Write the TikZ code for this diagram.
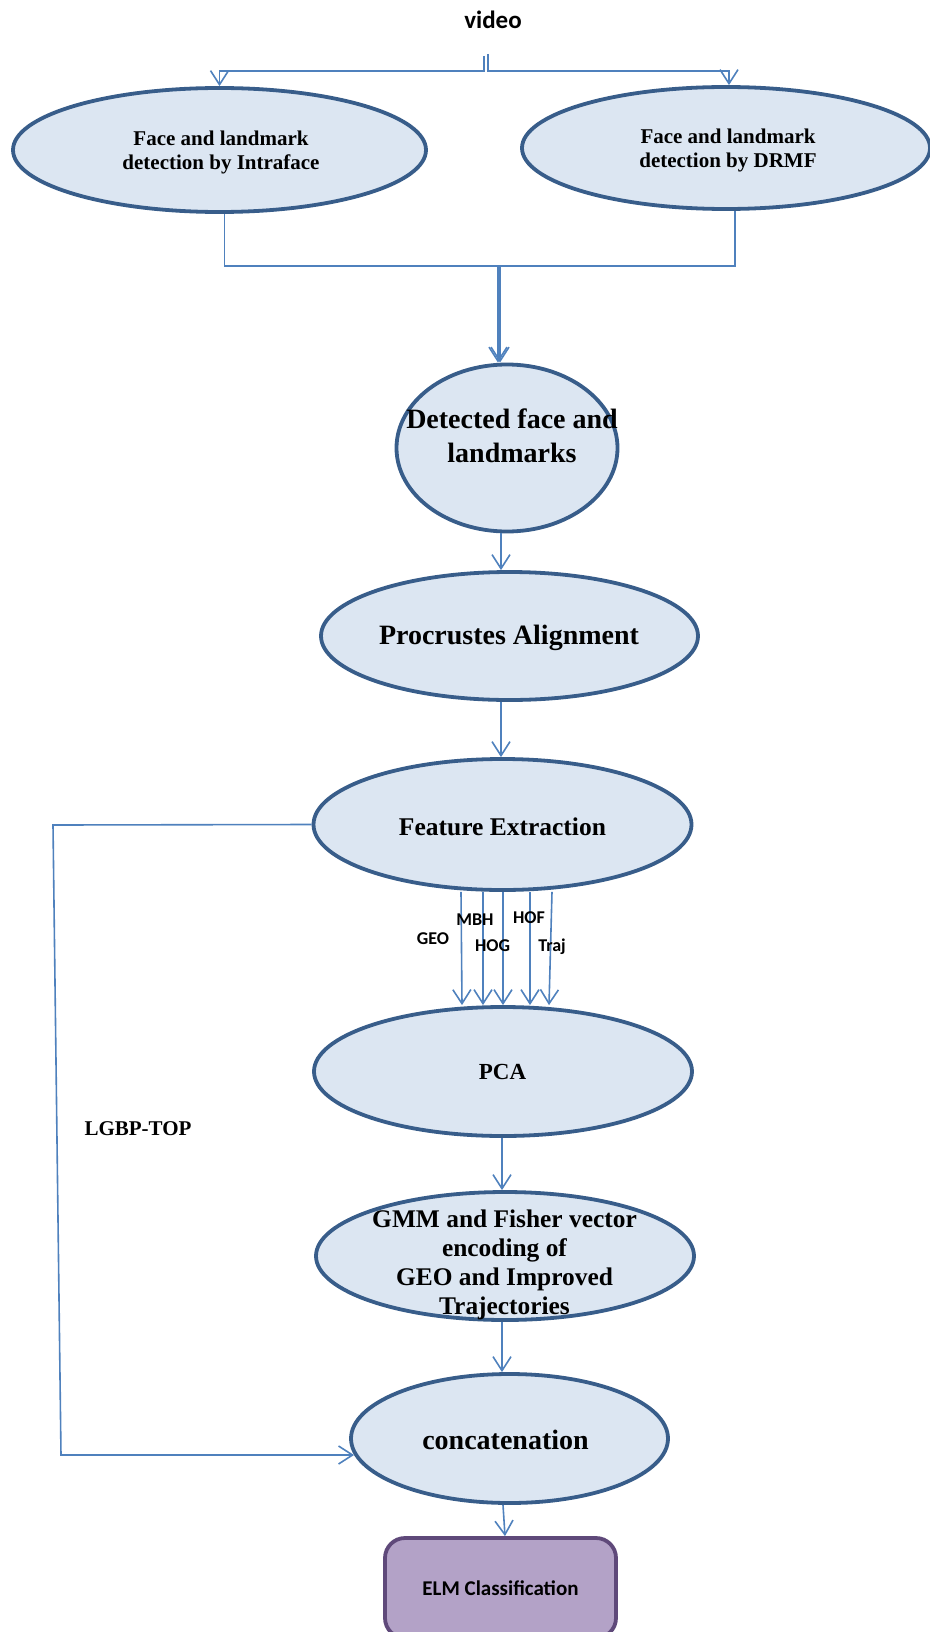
\documentclass[tikz,border=0pt]{standalone}
\usepackage{fontspec}
\setmainfont{Liberation Serif}
\newfontfamily\calib{Carlito}
\usetikzlibrary{shapes.geometric,arrows.meta,calc}
\definecolor{ellfill}{HTML}{DCE6F2}
\definecolor{elldraw}{HTML}{385D8A}
\definecolor{conncol}{HTML}{4F81BD}
\definecolor{elmfill}{HTML}{B3A2C7}
\definecolor{elmdraw}{HTML}{5F497A}
\begin{document}
\begin{tikzpicture}[x=1pt,y=-1pt,
  ell/.style={ellipse, draw=elldraw, fill=ellfill, line width=3.8pt, inner sep=0pt},
  conn/.style={draw=conncol, line width=1.6pt},
  arr/.style={conn, -{Straight Barb[length=14pt,width=18pt]}},
  lbl/.style={inner sep=0pt, align=center},
  sersize/.style 2 args={font=\bfseries\fontsize{#1}{#2}\selectfont},
  sanssize/.style 2 args={font=\calib\bfseries\fontsize{#1}{#2}\selectfont}
]
\useasboundingbox (0,0) rectangle (929,1632);

% ellipses
\node[ell, minimum width=413pt, minimum height=124pt] (intra) at (219.5,150) {};
\node[ell, minimum width=408pt, minimum height=122pt] (drmf) at (726,148) {};
\node[ell, minimum width=221pt, minimum height=167pt] (det) at (507,448) {};
\node[ell, minimum width=377pt, minimum height=128pt] (proc) at (509.5,636) {};
\node[ell, minimum width=378pt, minimum height=131pt] (feat) at (502.5,824.5) {};
\node[ell, minimum width=378pt, minimum height=129pt] (pca) at (503,1071.5) {};
\node[ell, minimum width=378pt, minimum height=128pt] (gmm) at (505,1256) {};
\node[ell, minimum width=317pt, minimum height=129pt] (concat) at (509.5,1438.5) {};
\node[draw=elmdraw, fill=elmfill, line width=3.8pt, rounded corners=20pt,
      minimum width=231pt, minimum height=100pt] (elm) at (500.5,1588) {};

% video text
\node[lbl, sanssize={25}{30}] (video) at (493,20) {video};

% connectors from video
\coordinate (v1) at (484,56);
\coordinate (v2) at (488,54);
\draw[arr] (v1) -- ++(0,15) -| (intra.north);
\draw[arr] (v2) -- ++(0,17) -| ($(drmf.north)+(3,0)$);

% merge to detected
\coordinate (m1) at (498,266);
\coordinate (m2) at (500,266);
\draw[arr] ($(intra.south)+(5,0)$) |- (m1) -- (det.north -| m1);
\draw[arr] ($(drmf.south)+(9,0)$) |- (m2) -- (det.north -| m2);

% spine
\coordinate (sp) at (501,0);
\coordinate (sq) at (502,0);
\draw[arr] (det.south -| sp) -- (proc.north -| sp);
\draw[arr] (proc.south -| sp) -- (feat.north -| sp);
\foreach \a/\b in {-41.5/-41, -19.5/-20, 0.5/0, 27.5/27, 49.5/46}
  \draw[arr] ($(feat.south)+(\a,0)$) -- ($(pca.north)+(\b,0)$);
\draw[arr] (pca.south -| sq) -- (gmm.north -| sq);
\draw[arr] (gmm.south -| sq) -- (concat.north -| sq);
\draw[arr] ($(concat.south)+(-6.5,0)$) -- ($(elm.north)+(4.5,0)$);

% LGBP-TOP branch
\coordinate (lg1) at (53,825);
\coordinate (lg2) at (61,1455);
\draw[arr] (feat.west) -- (lg1) -- (lg2) -- (lg2 -| concat.186);

% texts
\node[lbl, sersize={21}{24}] (intraT) at (221,152) {Face and landmark\\detection by Intraface};
\node[lbl, sersize={21}{24}] (drmfT) at (728,150.5) {Face and landmark\\detection by DRMF};
\node[lbl, sersize={28}{34}] (detT) at (512,436) {Detected face and\\landmarks};
\node[lbl, sersize={28}{32}] (procT) at (509,638) {Procrustes Alignment};
\node[lbl, sersize={25.5}{30}] (featT) at (502.5,827) {Feature Extraction};
\node[lbl, sersize={23}{28}] (pcaT) at (502.5,1071.5) {PCA};
\node[lbl, sersize={25.4}{29}] (gmmT) at (504.5,1265) {GMM and Fisher vector\\encoding of\\GEO and Improved\\Trajectories};
\node[lbl, sersize={28}{32}] (concatT) at (505.5,1440) {concatenation};
\node[lbl, sersize={21}{24}] (lgbpT) at (138,1129) {LGBP-TOP};
\node[lbl, sanssize={21}{25}] (elmT) at (500.5,1588) {ELM Classification};

% feature labels
\node[lbl, sanssize={18}{22}, anchor=base] (geoT) at (433,944) {GEO};
\node[lbl, sanssize={18}{22}, anchor=base] (mbhT) at (475,925) {MBH};
\node[lbl, sanssize={18}{22}, anchor=base] (hogT) at (492.5,951) {HOG};
\node[lbl, sanssize={18}{22}, anchor=base] (hofT) at (529,923) {HOF};
\node[lbl, sanssize={18}{22}, anchor=base] (trajT) at (552,951) {Traj};
\end{tikzpicture}
\end{document}
